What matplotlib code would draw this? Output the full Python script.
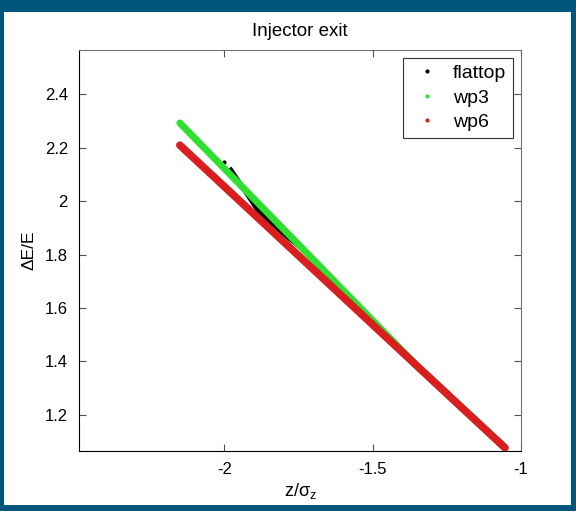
import matplotlib
matplotlib.use('Agg')
import matplotlib.pyplot as plt
from matplotlib.lines import Line2D
from matplotlib.patches import Rectangle

# energy spread vs longitudinal position at injector exit
flattop_z = [-2.002, -1.978, -1.887, -1.819, -1.742, -1.336, -1.054]
flattop_dE = [2.146, 2.116, 1.966, 1.894, 1.826, 1.364, 1.077]

wp3_z = [-2.150, -1.336, -1.054]
wp3_dE = [2.292, 1.367, 1.077]

wp6_z = [-2.150, -1.054]
wp6_dE = [2.209, 1.077]

x_ticks = [-2, -1.5, -1]
y_ticks = [1.2, 1.4, 1.6, 1.8, 2, 2.2, 2.4]

plt.rcParams['font.family'] = ['Liberation Sans', 'DejaVu Sans']
plt.rcParams['mathtext.fontset'] = 'custom'
plt.rcParams['mathtext.rm'] = 'Liberation Sans'
plt.rcParams['mathtext.it'] = 'Liberation Sans:italic'

fig = plt.figure(figsize=(5.76, 5.11), dpi=100)
fig.patch.set_facecolor('#00557c')
# white panel inside the frame
fig.patches.append(Rectangle((4 / 576, 6 / 511), 567 / 576, 493 / 511,
                             transform=fig.transFigure, facecolor='white',
                             edgecolor='none', zorder=-5))

ax = fig.add_axes([79 / 576, 1 - 451 / 511, 442 / 576, 401 / 511])
ax.set_zorder(2)

green = '#30e030'
red = '#d81e1e'
ax.plot(wp3_z, wp3_dE, color=green, lw=5, solid_capstyle='round',
        solid_joinstyle='round', zorder=2)
ax.plot(flattop_z[:1], flattop_dE[:1], 'k.', ms=4, zorder=1)
ax.plot(flattop_z[1:], flattop_dE[1:], color='black', lw=3.5, zorder=1)
ax.plot(wp6_z, wp6_dE, color=red, lw=5.5, solid_capstyle='round', zorder=3)

ax.set_xlim(-2.49, -1)
ax.set_ylim(1.065, 2.565)
ax.set_xticks(x_ticks)
ax.set_xticklabels(['-2', '-1.5', '-1'])
ax.set_yticks(y_ticks)
ax.set_yticklabels(['1.2', '1.4', '1.6', '1.8', '2', '2.2', '2.4'])
ax.tick_params(direction='in', length=5, width=0.8, top=True, right=True,
               labelsize=12, pad=8, colors='#505050', labelcolor='black')
for side in ['top', 'right']:
    ax.spines[side].set_color('#707070')
for side in ['bottom', 'left']:
    ax.spines[side].set_color('black')

ax.set_title('Injector exit', fontsize=13.5, pad=10)
ax.set_xlabel(r'z/$\mathrm{\sigma_z}$', fontsize=13, labelpad=3)
ax.set_ylabel('ΔE/E', fontsize=12.5, labelpad=6)

handles = [Line2D([], [], ls='none', marker='.', ms=4, color='black'),
           Line2D([], [], ls='none', marker='.', ms=4, color=green),
           Line2D([], [], ls='none', marker='.', ms=4, color=red)]
leg = ax.legend(handles, ['flattop', 'wp3', 'wp6'], loc='upper right',
                fontsize=14, frameon=True, fancybox=False, edgecolor='black',
                borderaxespad=0.4, handlelength=1.8, handletextpad=0.45,
                labelspacing=0.35, borderpad=0.35)
leg.get_frame().set_linewidth(0.8)

fig.savefig('out.png', dpi=100, facecolor=fig.get_facecolor())
